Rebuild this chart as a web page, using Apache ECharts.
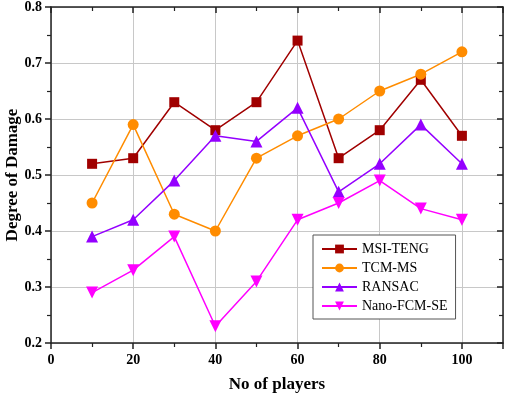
<!DOCTYPE html>
<html>
<head>
<meta charset="utf-8">
<script src="https://cdn.jsdelivr.net/npm/echarts@6/dist/echarts.min.js"></script>
<style>
  html, body { margin: 0; padding: 0; background: #fff; }
  #chart { width: 505px; height: 395px; }
</style>
</head>
<body>
<div id="chart"></div>
<script>
// values
const players = [10, 20, 30, 40, 50, 60, 70, 80, 90, 100]
const msiTeng = [0.52, 0.53, 0.63, 0.58, 0.63, 0.74, 0.53, 0.58, 0.67, 0.57]
const tcmMs = [0.45, 0.59, 0.43, 0.40, 0.53, 0.57, 0.60, 0.65, 0.68, 0.72]
const ransac = [0.39, 0.42, 0.49, 0.57, 0.56, 0.62, 0.47, 0.52, 0.59, 0.52]
const nanoFcm = [0.29, 0.33, 0.39, 0.23, 0.31, 0.42, 0.45, 0.49, 0.44, 0.42]

const font = 'Liberation Serif'
const downTri = 'path://M0,0 L10,0 L5,9 Z'

const pairs = (ys) => players.map((x, i) => [x, ys[i]])

const chart = echarts.init(document.getElementById('chart'))

// bottom/left ticks point out, top/right mirror ticks point in
const lineStyle = { color: '#222', width: 1.5 }
const tickOut = { show: true, inside: false, length: 6, lineStyle: { color: '#222', width: 1.5 } }
const tickIn = { show: true, inside: true, length: 6, lineStyle: { color: '#222', width: 1.5 } }
const minor = { show: true, splitNumber: 2, length: 4, lineStyle: { color: '#222', width: 1.2 } }

const option = {
  animation: false,
  grid: { left: 51, right: 2, top: 7, bottom: 52, outerBoundsMode: 'none', containLabel: false },
  xAxis: [
    {
      type: 'value', min: 0, max: 110, interval: 20,
      name: 'No of players', nameLocation: 'middle', nameGap: 33, nameMoveOverlap: false,
      nameTextStyle: { fontFamily: font, fontWeight: 'bold', fontSize: 17, color: '#000' },
      axisLine: { show: true, onZero: false, lineStyle },
      axisTick: tickOut,
      minorTick: { ...minor },
      axisLabel: { showMaxLabel: false, fontFamily: font, fontWeight: 'bold', fontSize: 14, color: '#000', margin: 10 },
      splitLine: { show: true, lineStyle: { color: '#c8c8c8', width: 1 } },
    },
    {
      type: 'value', min: 0, max: 110, interval: 20, position: 'top',
      axisLine: { show: true, onZero: false, lineStyle },
      axisTick: tickIn,
      minorTick: { ...minor },
      axisLabel: { show: false },
      splitLine: { show: false },
    },
  ],
  yAxis: [
    {
      type: 'value', min: 0.2, max: 0.8, interval: 0.1,
      name: 'Degree of Damage', nameLocation: 'middle', nameGap: 30, nameMoveOverlap: false,
      nameTextStyle: { fontFamily: font, fontWeight: 'bold', fontSize: 17, color: '#000' },
      axisLine: { show: true, onZero: false, lineStyle },
      axisTick: tickOut,
      minorTick: { ...minor },
      axisLabel: { fontFamily: font, fontWeight: 'bold', fontSize: 14, color: '#000', margin: 9,
        formatter: (v) => v.toFixed(1) },
      splitLine: { show: true, lineStyle: { color: '#c8c8c8', width: 1 } },
    },
    {
      type: 'value', min: 0.2, max: 0.8, interval: 0.1, position: 'right',
      axisLine: { show: true, onZero: false, lineStyle },
      axisTick: tickIn,
      minorTick: { ...minor },
      axisLabel: { show: false },
      splitLine: { show: false },
    },
  ],
  legend: {
    orient: 'vertical', left: 313, top: 235,
    backgroundColor: '#fff',
    borderColor: '#555', borderWidth: 1,
    padding: [7, 8, 6, 8],
    itemWidth: 35, itemHeight: 11, itemGap: 5,
    textStyle: { fontFamily: font, fontSize: 14, color: '#000' },
    data: ['MSI-TENG', 'TCM-MS', 'RANSAC', 'Nano-FCM-SE'],
  },
  series: [
    {
      name: 'MSI-TENG', type: 'line', data: pairs(msiTeng),
      symbol: 'rect', symbolSize: 10,
      itemStyle: { color: '#a00000' }, lineStyle: { color: '#a00000', width: 1.5 },
    },
    {
      name: 'TCM-MS', type: 'line', data: pairs(tcmMs),
      symbol: 'circle', symbolSize: 11,
      itemStyle: { color: '#ff8c00' }, lineStyle: { color: '#ff8c00', width: 1.5 },
    },
    {
      name: 'RANSAC', type: 'line', data: pairs(ransac),
      symbol: 'triangle', symbolSize: 12,
      itemStyle: { color: '#9400ff' }, lineStyle: { color: '#9400ff', width: 1.5 },
    },
    {
      name: 'Nano-FCM-SE', type: 'line', data: pairs(nanoFcm),
      symbol: downTri, symbolSize: 12,
      itemStyle: { color: '#ff00ff' }, lineStyle: { color: '#ff00ff', width: 1.5 },
    },
  ],
}

chart.setOption(option)
</script>
</body>
</html>
